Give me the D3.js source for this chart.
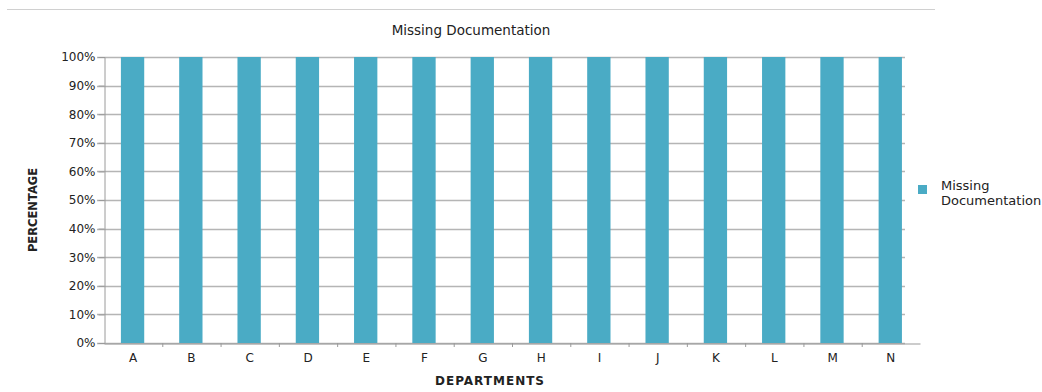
<!DOCTYPE html>
<html><head><meta charset="utf-8">
<script src="https://cdn.jsdelivr.net/npm/d3@7"></script>
<style>body{margin:0;background:#fff}svg{display:block}text{font-family:"DejaVu Sans",sans-serif;fill:#222}</style>
</head><body>
<script>
const categories = ["A","B","C","D","E","F","G","H","I","J","K","L","M","N"];
const values = [100,100,100,100,100,100,100,100,100,100,100,100,100,100];
const yTicks = [0,10,20,30,40,50,60,70,80,90,100];
const seriesName = "Missing Documentation";

const W=1042,H=392;
const svg=d3.select("body").append("svg").attr("width",W).attr("height",H);
const m={l:104};
const x=d3.scaleBand().domain(categories).range([m.l,920]).paddingInner(0).paddingOuter(0);
const y=d3.scaleLinear().domain([0,100]).range([343,57]);

// faint top line
svg.append("line").attr("x1",7).attr("x2",935).attr("y1",9.5).attr("y2",9.5).attr("stroke","#d0d0d0");

// gridlines
svg.append("g").selectAll("line").data(yTicks).join("line")
  .attr("x1",97).attr("x2",905).attr("y1",d=>Math.round(y(d))+0.5).attr("y2",d=>Math.round(y(d))+0.5)
  .attr("stroke","#b5b5b5").attr("stroke-width",1.3);

// bars
svg.append("g").selectAll("rect").data(values).join("rect")
  .attr("x",(d,i)=>x(categories[i])+x.bandwidth()*0.29)
  .attr("width",x.bandwidth()*0.4)
  .attr("y",d=>y(d)).attr("height",d=>y(0)-y(d))
  .attr("fill","#4aabc5");

// y axis
const ya=svg.append("g").attr("transform",`translate(${m.l+0.5},0)`)
  .call(d3.axisLeft(y).tickValues(yTicks).tickFormat(d=>d+"%").tickSize(6).tickPadding(3));
ya.select(".domain").attr("stroke","#9a9a9a");
ya.selectAll(".tick line").attr("stroke","#9a9a9a");
ya.selectAll("text").attr("font-size",12).attr("fill","#222").style("font-family","DejaVu Sans");

// x axis
const xa=svg.append("g").attr("transform",`translate(0,${343.5})`)
  .call(d3.axisBottom(x).tickSize(0).tickPadding(10));
xa.select(".domain").attr("stroke","#9a9a9a").attr("stroke-width",1.2);
xa.selectAll("text").attr("font-size",12).attr("fill","#222").style("font-family","DejaVu Sans");
// band boundary ticks
svg.append("g").selectAll("line").data(categories.slice(1)).join("line")
  .attr("x1",d=>x(d)+0.5).attr("x2",d=>x(d)+0.5).attr("y1",343).attr("y2",347)
  .attr("stroke","#9a9a9a");

// title
svg.append("text").attr("x",471).attr("y",35).attr("text-anchor","middle").attr("font-size",13.5).text(seriesName);
// axis titles
svg.append("text").attr("transform","translate(37,210) rotate(-90)").attr("text-anchor","middle")
  .attr("font-size",11.5).attr("font-weight","bold").text("PERCENTAGE");
svg.append("text").attr("x",490).attr("y",385).attr("text-anchor","middle")
  .attr("font-size",12).attr("font-weight","bold").attr("letter-spacing",1).text("DEPARTMENTS");

// legend
svg.append("rect").attr("x",918).attr("y",185).attr("width",9).attr("height",9).attr("fill","#4aabc5");
svg.append("text").attr("x",941).attr("y",190).attr("font-size",13).text("Missing");
svg.append("text").attr("x",941).attr("y",205).attr("font-size",13).text("Documentation");
</script>
</body></html>
